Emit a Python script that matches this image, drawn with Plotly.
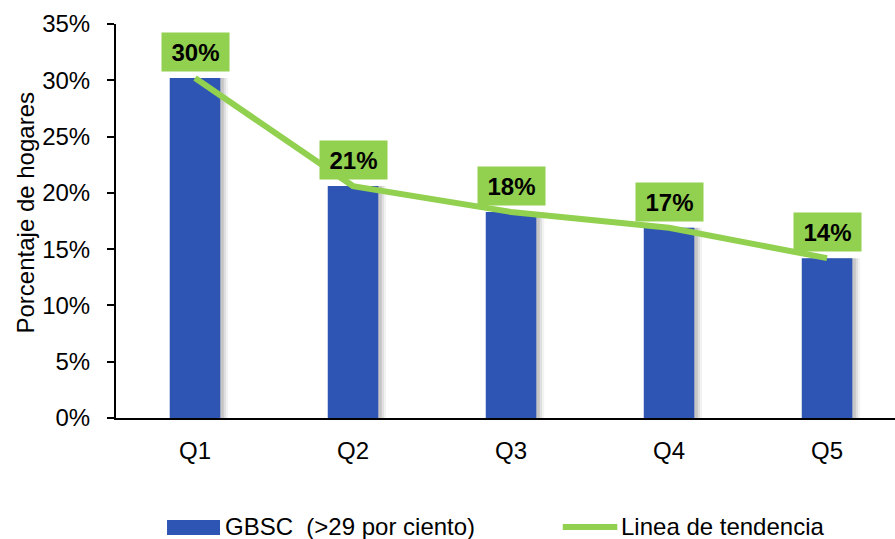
import plotly.graph_objects as go

# Household share by quintile
categories = ["Q1", "Q2", "Q3", "Q4", "Q5"]
gbsc_values = [30.2, 20.6, 18.3, 16.9, 14.2]
trend_values = [30.2, 20.6, 18.3, 16.9, 14.2]
y_ticks = [0, 5, 10, 15, 20, 25, 30, 35]
y_tick_text = [f"{t}%" for t in y_ticks]

bar_name = "GBSC\u00a0 (>29 por ciento)"
line_name = "Linea de tendencia"
y_title = "Porcentaje de hogares"

BLUE = "#2F55B4"
GREEN = "#92D050"
FONT = "Liberation Sans, Arial, sans-serif"
FS = 24

xpos = list(range(len(categories)))
bar_w = 0.32

fig = go.Figure()

# soft drop shadow to the right of each bar
for shift, alpha in [(0.05, 0.05), (0.036, 0.08), (0.022, 0.11)]:
    fig.add_trace(go.Bar(
        x=xpos, y=gbsc_values, width=bar_w, offset=-bar_w / 2 + shift,
        marker=dict(color=f"rgba(0,0,0,{alpha})", line=dict(width=0)),
        showlegend=False, hoverinfo="skip",
    ))

fig.add_trace(go.Bar(
    x=xpos, y=gbsc_values, width=bar_w, offset=-bar_w / 2,
    marker=dict(color=BLUE, line=dict(width=0)),
    name=bar_name, showlegend=False,
))

fig.add_trace(go.Scatter(
    x=xpos, y=trend_values, mode="lines",
    line=dict(color=GREEN, width=6),
    name=line_name, showlegend=False,
))

# value labels in green boxes
for xi, v in zip(xpos, gbsc_values):
    fig.add_annotation(
        x=xi, y=v, xref="x", yref="y", text=f"<b>{v:.0f}%</b>",
        showarrow=False, yanchor="bottom", yshift=6,
        width=65, height=36, borderpad=1, bgcolor=GREEN,
        font=dict(family=FONT, size=FS, color="black"),
    )

# y-axis title
fig.add_annotation(xref="paper", yref="paper", x=-0.1168, y=0.5216,
                   xanchor="center", yanchor="middle", showarrow=False,
                   textangle=-90, text=y_title,
                   font=dict(family=FONT, size=FS, color="black"))

# legend
fig.add_shape(type="rect", xref="paper", yref="paper",
              x0=0.0655, x1=0.1335, y0=-0.297, y1=-0.2589,
              fillcolor=BLUE, line=dict(width=0))
fig.add_annotation(xref="paper", yref="paper", x=0.1375, y=-0.2766,
                   xanchor="left", yanchor="middle", showarrow=False,
                   text=bar_name, font=dict(family=FONT, size=FS, color="black"))
fig.add_shape(type="line", xref="paper", yref="paper",
              x0=0.5735, x1=0.6435, y0=-0.2766, y1=-0.2766,
              line=dict(color=GREEN, width=6))
fig.add_annotation(xref="paper", yref="paper", x=0.6455, y=-0.2766,
                   xanchor="left", yanchor="middle", showarrow=False,
                   text=line_name, font=dict(family=FONT, size=FS, color="black"))

fig.update_layout(
    width=895, height=539,
    margin=dict(l=116, r=0, t=24, b=121),
    barmode="overlay",
    plot_bgcolor="white", paper_bgcolor="white",
    font=dict(family=FONT, size=FS, color="black"),
    showlegend=False,
)

fig.update_xaxes(
    range=[-0.5, 4.43], tickmode="array", tickvals=xpos, ticktext=categories,
    showline=True, linecolor="black", linewidth=2, ticks="",
    showgrid=False, zeroline=False, ticklabelstandoff=10,
    tickfont=dict(family=FONT, size=FS, color="black"),
)
fig.update_yaxes(
    range=[0, 35], tickmode="array", tickvals=y_ticks, ticktext=y_tick_text,
    showline=True, linecolor="black", linewidth=2,
    ticks="outside", ticklen=7, tickwidth=2, tickcolor="black",
    showgrid=False, zeroline=False, ticklabelstandoff=12,
    tickfont=dict(family=FONT, size=FS, color="black"),
)

fig.write_html("out.html")
